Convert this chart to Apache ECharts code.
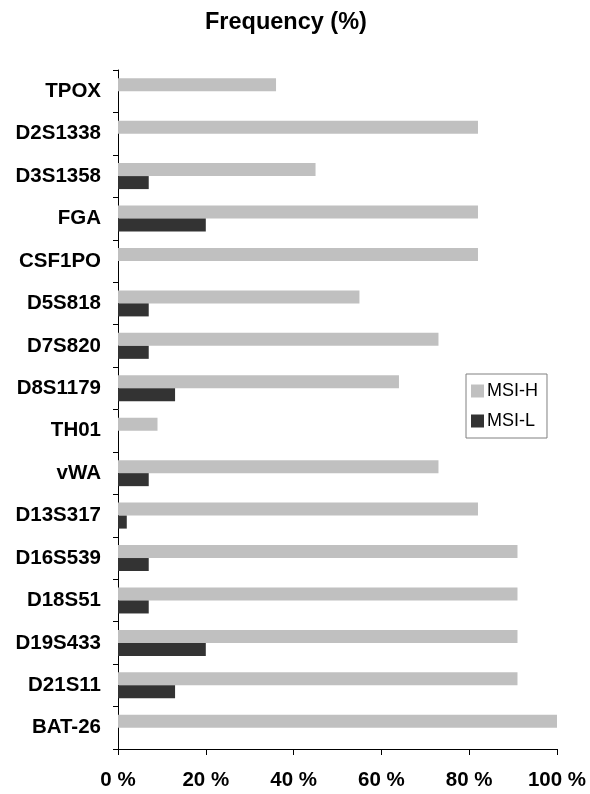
<!DOCTYPE html>
<html>
<head>
<meta charset="utf-8">
<script src="https://cdn.jsdelivr.net/npm/echarts@6/dist/echarts.min.js"></script>
<style>
  html, body { margin: 0; padding: 0; background: #fff; }
  #chart { width: 590px; height: 794px; }
</style>
</head>
<body>
<div id="chart"></div>
<script>
// Markers, listed top to bottom
const markers = ['TPOX', 'D2S1338', 'D3S1358', 'FGA', 'CSF1PO', 'D5S818', 'D7S820',
  'D8S1179', 'TH01', 'vWA', 'D13S317', 'D16S539', 'D18S51', 'D19S433', 'D21S11', 'BAT-26'];

// Frequency (%) of instability per marker
const msiH = [36, 82, 45, 82, 82, 55, 73, 64, 9, 73, 82, 91, 91, 91, 91, 100];
const msiL = [0, 0, 7, 20, 0, 7, 7, 13, 0, 7, 2, 7, 7, 20, 13, 0];

const seriesNames = ['MSI-H', 'MSI-L'];
const xTicks = [0, 20, 40, 60, 80, 100];

const font = 'Arial, "Liberation Sans", sans-serif';
const chart = echarts.init(document.getElementById('chart'), null, { renderer: 'canvas' });

chart.setOption({
  animation: false,
  backgroundColor: '#ffffff',
  title: {
    text: 'Frequency (%)',
    left: 200,
    top: 6,
    textStyle: { fontFamily: font, fontSize: 23.5, fontWeight: 'bold', color: '#000' }
  },
  legend: {
    data: seriesNames,
    icon: 'rect',
    orient: 'vertical',
    left: 466,
    top: 374,
    padding: [8, 9, 8, 5],
    itemWidth: 13,
    itemHeight: 13,
    itemGap: 12,
    borderColor: '#808080',
    borderWidth: 1,
    borderRadius: 0,
    backgroundColor: '#fff',
    textStyle: { fontFamily: font, fontSize: 18, color: '#000', padding: [0, 0, 0, -2] }
  },
  grid: { left: 118, right: 33, top: 70, bottom: 45, containLabel: false },
  xAxis: {
    type: 'value',
    min: xTicks[0],
    max: xTicks[xTicks.length - 1],
    interval: xTicks[1] - xTicks[0],
    axisLine: { show: true, lineStyle: { color: '#000', width: 1 } },
    axisTick: { show: true, length: 6, lineStyle: { color: '#000' } },
    splitLine: { show: false },
    axisLabel: {
      formatter: '{value} %',
      margin: 21,
      fontFamily: font, fontSize: 20.5, fontWeight: 'bold', color: '#000'
    }
  },
  yAxis: {
    type: 'category',
    data: markers,
    inverse: true,
    axisLine: { show: true, lineStyle: { color: '#000', width: 1 } },
    axisTick: { show: true, length: 5, lineStyle: { color: '#000' } },
    axisLabel: {
      margin: 17,
      fontFamily: font, fontSize: 20.5, fontWeight: 'bold', color: '#000'
    }
  },
  series: [
    {
      name: seriesNames[0],
      type: 'bar',
      data: msiH,
      barWidth: 13,
      barGap: '0%',
      itemStyle: { color: '#c0c0c0' }
    },
    {
      name: seriesNames[1],
      type: 'bar',
      data: msiL,
      barWidth: 13,
      barGap: '0%',
      itemStyle: { color: '#333333' }
    }
  ]
});
</script>
</body>
</html>
